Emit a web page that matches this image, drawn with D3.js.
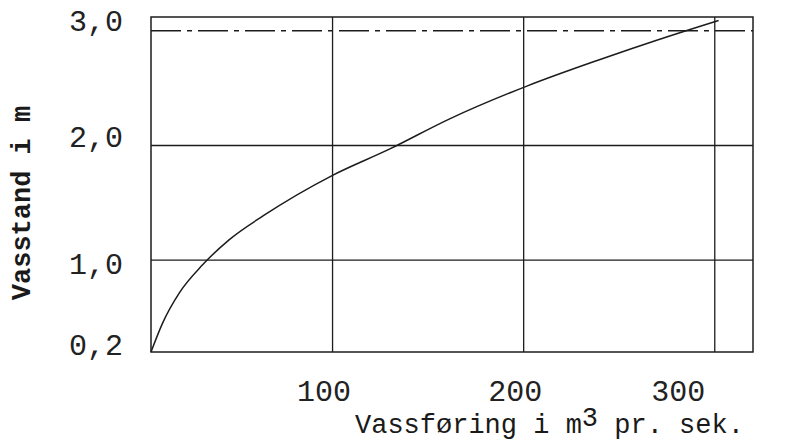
<!DOCTYPE html>
<html>
<head>
<meta charset="utf-8">
<script src="https://cdn.jsdelivr.net/npm/d3@7/dist/d3.min.js"></script>
<style>
  html, body { margin: 0; padding: 0; background: #fff; }
  svg { display: block; }
  .tick-label { font-family: "Liberation Mono", "DejaVu Sans Mono", monospace; font-size: 30px; fill: #222; }
  .title { font-family: "Liberation Mono", "DejaVu Sans Mono", monospace; fill: #1a1a1a; }
</style>
</head>
<body>
<svg id="chart" width="811" height="446"></svg>
<script>
// Rating curve: discharge (m3/s) against water level (m)
const discharge = [5, 11, 20, 32, 46, 64, 100, 130, 161, 202, 240, 270, 302];
const stage     = [0.2, 0.45, 0.72, 0.96, 1.18, 1.39, 1.74, 1.97, 2.23, 2.52, 2.75, 2.92, 3.09];

const xTicks = [100, 200, 300];
const yTicks = [0.2, 1.0, 2.0, 3.0];
const yTickLabels = ["0,2", "1,0", "2,0", "3,0"];

const xTitle = "Vassføring i m";
const xTitleSup = "3";
const xTitleTail = " pr. sek.";
const yTitle = "Vasstand i m";

const svg = d3.select("#chart");
const ink = "#1c1c1c";

const plot = { left: 151, right: 753, top: 17, bottom: 352 };

const x = d3.scaleLinear().domain([5, 320]).range([plot.left, plot.right]);
const y = d3.scaleLinear().domain([0.2, 3.12]).range([plot.bottom, plot.top]);

// typed labels sit a little off their grid lines
const xLabelShift = { 100: -9, 200: -9, 300: -37 };
const yLabelShift = { 0.2: -7, 1.0: 4, 2.0: -9, 3.0: -10 };

// grid lines
const grid = svg.append("g").attr("stroke", ink).attr("stroke-width", 1.3).attr("fill", "none");
grid.selectAll("line.v").data(xTicks).join("line")
  .attr("class", "v")
  .attr("x1", d => x(d)).attr("x2", d => x(d))
  .attr("y1", plot.top).attr("y2", plot.bottom);
grid.selectAll("line.h").data(yTicks.filter(v => v > 0.2)).join("line")
  .attr("class", "h")
  .attr("x1", plot.left).attr("x2", plot.right)
  .attr("y1", d => y(d)).attr("y2", d => y(d))
  .attr("stroke-dasharray", d => d === 3.0 ? "30,6,5,6" : null);

// frame
svg.append("rect")
  .attr("x", plot.left).attr("y", plot.top)
  .attr("width", plot.right - plot.left).attr("height", plot.bottom - plot.top)
  .attr("fill", "none").attr("stroke", ink).attr("stroke-width", 1.5);

// curve
const pts = discharge.map((d, i) => [d, stage[i]]);
svg.append("path")
  .datum(pts)
  .attr("fill", "none").attr("stroke", ink).attr("stroke-width", 1.5)
  .attr("d", d3.line().x(d => x(d[0])).y(d => y(d[1])).curve(d3.curveMonotoneX));

// x axis labels
const xAxis = svg.append("g")
  .attr("transform", `translate(0,${plot.bottom})`)
  .call(d3.axisBottom(x).tickValues(xTicks).tickSize(0).tickFormat(d3.format("d")));
xAxis.select(".domain").remove();
xAxis.selectAll("text")
  .attr("class", "tick-label")
  .attr("y", 49).attr("dy", 0)
  .attr("dx", d => xLabelShift[d])
  .attr("fill", "#222");

// y axis labels
const yAxis = svg.append("g")
  .attr("transform", `translate(${plot.left},0)`)
  .call(d3.axisLeft(y).tickValues(yTicks).tickSize(0).tickFormat((d, i) => yTickLabels[i]));
yAxis.select(".domain").remove();
yAxis.selectAll("text")
  .attr("class", "tick-label")
  .attr("x", -28).attr("dy", "0.32em")
  .attr("transform", d => `translate(0,${yLabelShift[d]})`)
  .attr("fill", "#222");

// axis titles
const xt = svg.append("text")
  .attr("class", "title")
  .attr("x", 355).attr("y", 433)
  .attr("font-size", 27);
xt.append("tspan").text(xTitle);
xt.append("tspan").attr("dy", -7).text(xTitleSup);
xt.append("tspan").attr("dy", 7).text(xTitleTail);

svg.append("text")
  .attr("class", "title")
  .attr("transform", "translate(30,203) rotate(-90)")
  .attr("text-anchor", "middle")
  .attr("font-size", 27)
  .attr("font-weight", "bold")
  .text(yTitle);
</script>
</body>
</html>
